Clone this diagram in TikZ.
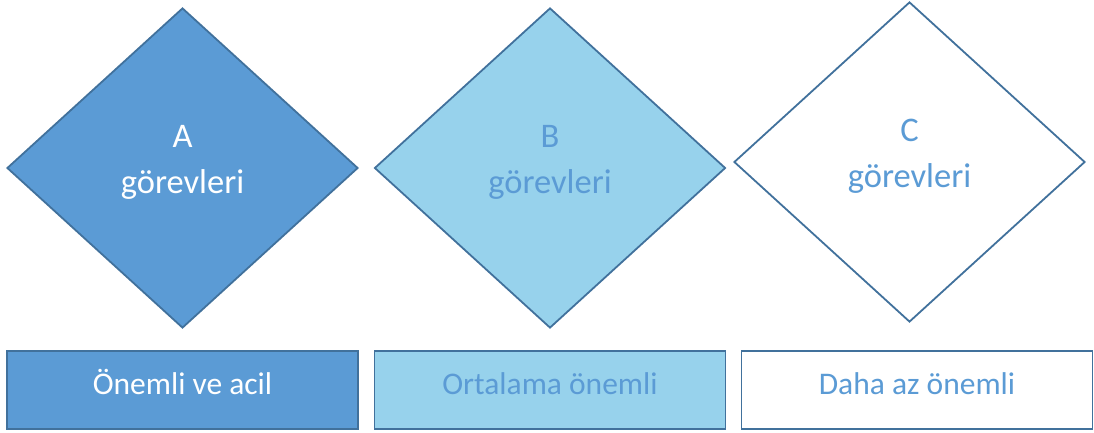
\documentclass[tikz,border=0pt]{standalone}
\usepackage{fontspec}
\setmainfont{Carlito}
\usetikzlibrary{shapes.geometric}
\definecolor{darkfill}{HTML}{5B9BD5}
\definecolor{lightfill}{HTML}{97D2EC}
\definecolor{edgeblue}{HTML}{41719C}
\begin{document}
\begin{tikzpicture}[
      x=1pt, y=-1pt,
      every node/.style = {draw=edgeblue, line width=1.8pt, align=center,
        font=\fontsize{34.5}{46}\selectfont, inner sep=0pt},
      task/.style = {shape=diamond, minimum width=351pt, minimum height=320pt,
        text height=60pt, text depth=10pt},
      level/.style = {shape=rectangle, minimum width=351pt, minimum height=78pt,
        font=\fontsize{31.5}{36}\selectfont, text height=19pt, text depth=11pt},
      high/.style = {fill=darkfill, text=white},
      mid/.style = {fill=lightfill, text=darkfill},
      low/.style = {fill=white, text=darkfill}
    ]
      \useasboundingbox (0,0) rectangle (1094,433);

      \node[task, high] (diaA) at (182.5,168) {A\\görevleri};
      \node[task, mid]  (diaB) at (550,168)   {B\\görevleri};
      \node[task, low]  (diaC) at (909.5,162) {C\\görevleri};

      \node[level, high] (boxA) at (182.5,390) {Önemli ve acil};
      \node[level, mid]  (boxB) at (550,390)   {Ortalama önemli};
      \node[level, low]  (boxC) at (917,390)   {Daha az önemli};
  \end{tikzpicture}
\end{document}
